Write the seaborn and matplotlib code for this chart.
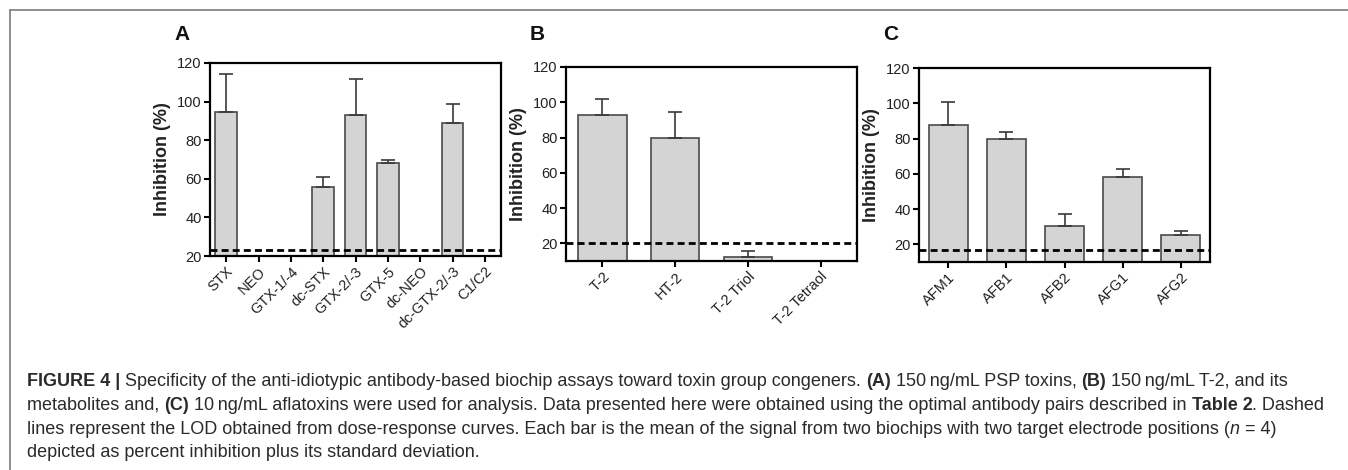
import matplotlib
matplotlib.use("Agg")
import numpy as np
import pandas as pd
import matplotlib.pyplot as plt
import seaborn as sns
from matplotlib.lines import Line2D

# Panel A: PSP toxins (150 ng/mL)
psp_names = ["STX", "NEO", "GTX-1/-4", "dc-STX", "GTX-2/-3", "GTX-5", "dc-NEO", "dc-GTX-2/-3", "C1/C2"]
psp_mean = [94.5, np.nan, np.nan, 55.5, 93.0, 68.0, np.nan, 89.0, np.nan]
psp_sd = [20.0, np.nan, np.nan, 5.5, 18.5, 2.0, np.nan, 9.5, np.nan]
psp_lod = 23

# Panel B: T-2 and metabolites (150 ng/mL)
t2_names = ["T-2", "HT-2", "T-2 Triol", "T-2 Tetraol"]
t2_mean = [93.0, 80.0, 12.5, np.nan]
t2_sd = [9.0, 14.5, 3.0, np.nan]
t2_lod = 20

# Panel C: aflatoxins (10 ng/mL)
afla_names = ["AFM1", "AFB1", "AFB2", "AFG1", "AFG2"]
afla_mean = [87.5, 80.0, 30.5, 58.0, 25.5]
afla_sd = [13.5, 3.5, 6.5, 5.0, 2.3]
afla_lod = 17

sns.set_style("ticks")
plt.rcParams["font.family"] = ["Liberation Sans", "DejaVu Sans"]

W, H = 1348, 470
fig = plt.figure(figsize=(W / 100, H / 100), dpi=100)


def box(left, top, right, bottom):
    return [left / W, 1 - bottom / H, (right - left) / W, (bottom - top) / H]


panels = [
    ("A", psp_names, psp_mean, psp_sd, psp_lod, (20, 120), box(210, 63, 501, 256)),
    ("B", t2_names, t2_mean, t2_sd, t2_lod, (10, 120), box(566, 67, 857, 261)),
    ("C", afla_names, afla_mean, afla_sd, afla_lod, (10, 120), box(919, 68, 1210, 262)),
]

for letter, names, mean, sd, lod, ylim, rect in panels:
    ax = fig.add_axes(rect)
    df = pd.DataFrame({"toxin": names, "inhibition": mean})
    sns.barplot(data=df, x="toxin", y="inhibition", order=names, color="#d4d4d4",
                saturation=1, edgecolor="#4a4a4a", linewidth=1.2, width=0.67,
                errorbar=None, ax=ax)
    xs = np.arange(len(names))
    ax.errorbar(xs, mean, yerr=[np.zeros(len(sd)), sd], fmt="none", ecolor="#3a3a3a",
                elinewidth=1.2, capsize=5, capthick=1.2, zorder=3)
    ax.axhline(lod, color="black", lw=2, ls=(0, (2.5, 1.5)), zorder=5)
    ax.set_ylim(*ylim)
    ax.set_xlim(-0.5, len(names) - 0.5)
    ax.set_yticks([20, 40, 60, 80, 100, 120])
    ax.set_xlabel("")
    ax.set_ylabel("Inhibition (%)", fontsize=13, fontweight="bold", color="#222222")
    ax.yaxis.set_label_coords(-0.134, 0.5)
    for s in ax.spines.values():
        s.set_visible(True)
        s.set_linewidth(1.6)
        s.set_color("black")
    ax.tick_params(axis="both", direction="out", length=4, width=1.5, color="black",
                   labelsize=10.5, labelcolor="#222222", pad=2)
    ax.tick_params(axis="x", top=False)
    ax.tick_params(axis="y", right=False)
    for lab in ax.get_xticklabels():
        lab.set_rotation(45)
        lab.set_ha("right")
        lab.set_rotation_mode("anchor")
    fig.text(rect[0] - 36 / W, 1 - 35 / H, letter, fontsize=15, fontweight="bold",
             ha="left", va="center", color="#111111")

# frame lines of the figure box
fig.add_artist(Line2D([10 / W, 1], [1 - 10 / H, 1 - 10 / H], color="#7a7a7a", lw=1.2))
fig.add_artist(Line2D([10 / W, 10 / W], [0, 1 - 10 / H], color="#7a7a7a", lw=1.2))

# caption, drawn run by run so bold / italic parts sit inline
caption = [
    [("FIGURE 4 |", "bold", "normal"),
     (" Specificity of the anti-idiotypic antibody-based biochip assays toward toxin group congeners. ", "normal", "normal"),
     ("(A)", "bold", "normal"), (" 150\u2009ng/mL PSP toxins, ", "normal", "normal"),
     ("(B)", "bold", "normal"), (" 150\u2009ng/mL T-2, and its", "normal", "normal")],
    [("metabolites and, ", "normal", "normal"), ("(C)", "bold", "normal"),
     (" 10\u2009ng/mL aflatoxins were used for analysis. Data presented here were obtained using the optimal antibody pairs described in ", "normal", "normal"),
     ("Table 2", "bold", "normal"), (". Dashed", "normal", "normal")],
    [("lines represent the LOD obtained from dose-response curves. Each bar is the mean of the signal from two biochips with two target electrode positions (", "normal", "normal"),
     ("n", "normal", "italic"), (" = 4)", "normal", "normal")],
    [("depicted as percent inhibition plus its standard deviation.", "normal", "normal")],
]
baselines = [386, 410, 433.5, 457]

fig.canvas.draw()
renderer = fig.canvas.get_renderer()
for runs, yb in zip(caption, baselines):
    x = 27
    for txt, weight, style in runs:
        t = fig.text(x / W, 1 - yb / H, txt, fontsize=13, fontweight=weight, fontstyle=style,
                     color="#2a2a2a", ha="left", va="baseline",
                     family=["Liberation Sans", "DejaVu Sans"])
        bb = t.get_window_extent(renderer=renderer)
        x += bb.width

fig.savefig("out.png", dpi=100)
